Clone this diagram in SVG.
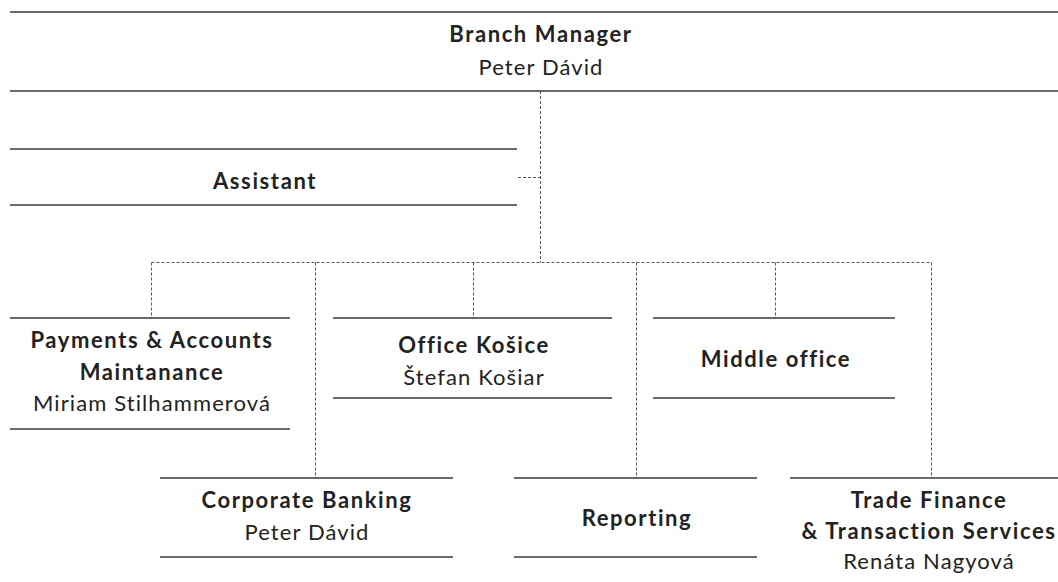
<svg xmlns="http://www.w3.org/2000/svg" width="1058" height="582" viewBox="0 0 1058 582">
<style>
.bg{fill:#ffffff}
.ln{stroke:#3a3a3a;stroke-width:1.5;fill:none}
.cn{stroke:#555;stroke-width:1;stroke-dasharray:3 2;fill:none}
.t{font-family:Lato,"Open Sans","Liberation Sans",sans-serif;font-size:22px;fill:#222;text-anchor:middle;letter-spacing:1.1px}
.b{font-weight:700;letter-spacing:1.6px}
</style>
<rect class="bg" x="0" y="0" width="1058" height="582"/>
<g id="connectors">
<path class="cn" d="M540.5 91 V262.5"/>
<path class="cn" d="M518 177.5 H540.5"/>
<path class="cn" d="M151.5 262.5 H931.5"/>
<path class="cn" d="M151.5 262.5 V318"/>
<path class="cn" d="M315.5 262.5 V478"/>
<path class="cn" d="M473.5 262.5 V318"/>
<path class="cn" d="M636.5 262.5 V478"/>
<path class="cn" d="M775.5 262.5 V318"/>
<path class="cn" d="M931.5 262.5 V478"/>
</g>
<g id="branch-manager">
<path class="ln" d="M10 12 H1058 M10 91 H1058"/>
<text class="t b" x="541" y="42">Branch Manager</text>
<text class="t" x="541" y="75">Peter Dávid</text>
</g>
<g id="assistant">
<path class="ln" d="M10 149 H517 M10 205 H517"/>
<text class="t b" x="265" y="189">Assistant</text>
</g>
<g id="payments">
<path class="ln" d="M10 318 H290 M10 429 H290"/>
<text class="t b" x="152" y="348">Payments &amp; Accounts</text>
<text class="t b" x="152" y="380">Maintanance</text>
<text class="t" x="152" y="411">Miriam Stilhammerová</text>
</g>
<g id="office-kosice">
<path class="ln" d="M333 318 H612 M333 398 H612"/>
<text class="t b" x="474" y="353">Office Košice</text>
<text class="t" x="474" y="385">Štefan Košiar</text>
</g>
<g id="middle-office">
<path class="ln" d="M653 318 H895 M653 398 H895"/>
<text class="t b" x="776" y="367">Middle office</text>
</g>
<g id="corporate-banking">
<path class="ln" d="M160 478 H453 M160 557 H453"/>
<text class="t b" x="307" y="508">Corporate Banking</text>
<text class="t" x="307" y="540">Peter Dávid</text>
</g>
<g id="reporting">
<path class="ln" d="M514 478 H757 M514 557 H757"/>
<text class="t b" x="637" y="526">Reporting</text>
</g>
<g id="trade-finance">
<path class="ln" d="M790 478 H1058"/>
<text class="t b" x="929" y="508">Trade Finance</text>
<text class="t b" x="929" y="539">&amp; Transaction Services</text>
<text class="t" x="929" y="569">Renáta Nagyová</text>
</g>
</svg>
